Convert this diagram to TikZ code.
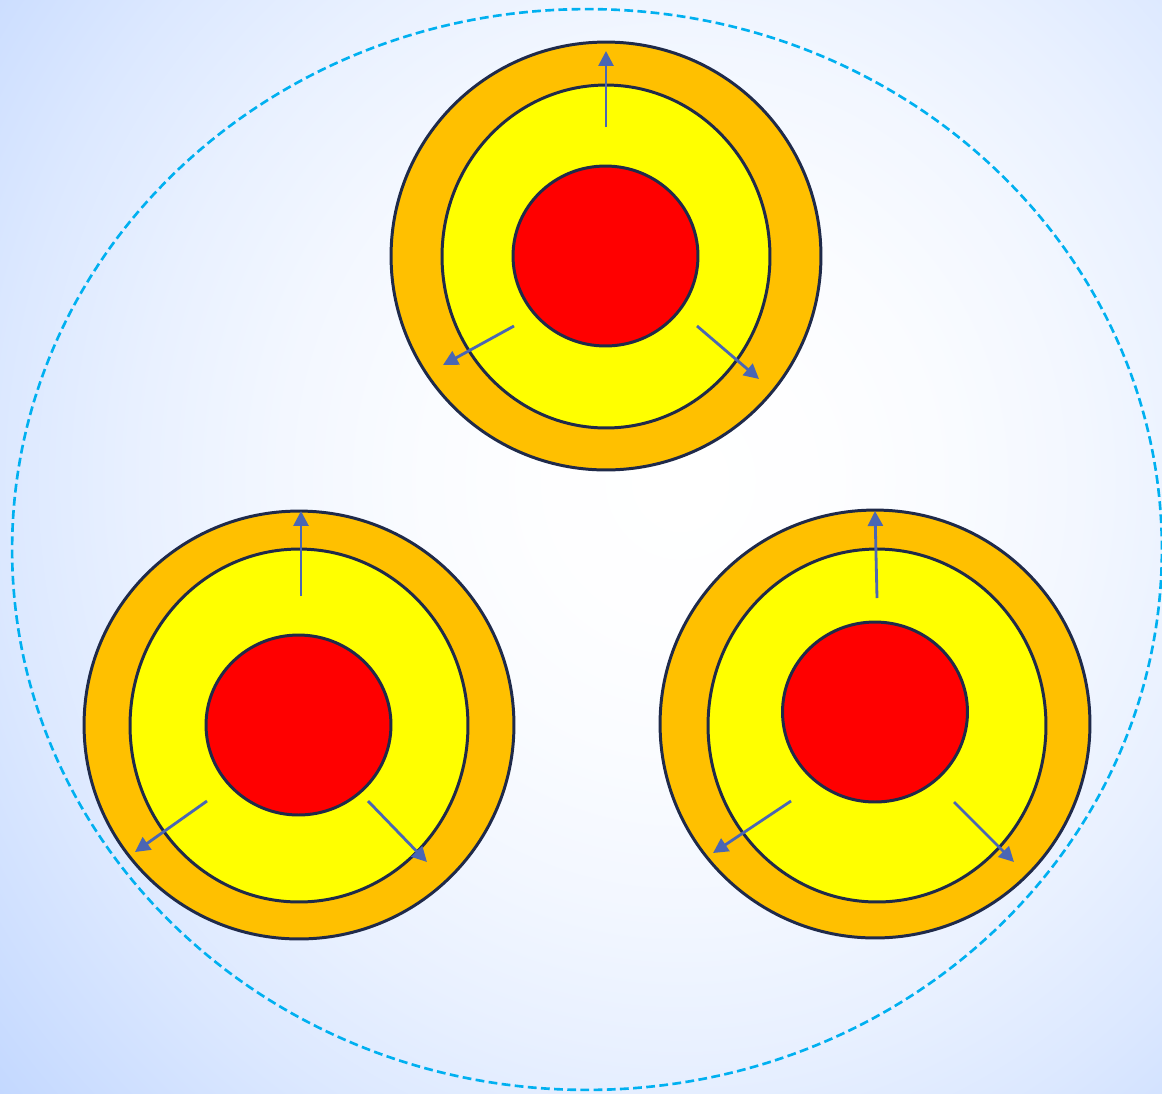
\documentclass[tikz,border=0pt]{standalone}
\usetikzlibrary{shapes.geometric,arrows.meta}
\definecolor{cornerblue}{HTML}{C0D6FF}
\definecolor{ringorange}{HTML}{FFC000}
\definecolor{coreyellow}{HTML}{FFFF00}
\definecolor{corered}{HTML}{FF0000}
\definecolor{edgenavy}{HTML}{1F2A4A}
\definecolor{arrowblue}{HTML}{4A66B4}
\definecolor{dashcyan}{HTML}{00B0F0}
\colorlet{bgA}{cornerblue!2.2!white}
\colorlet{bgB}{cornerblue!8.9!white}
\colorlet{bgC}{cornerblue!20!white}
\colorlet{bgD}{cornerblue!35.6!white}
\colorlet{bgE}{cornerblue!55.6!white}
\colorlet{bgF}{cornerblue!80!white}
\pgfdeclareradialshading{bgshade}{\pgfpoint{0bp}{0bp}}{color(0bp)=(white); color(5bp)=(bgA); color(10bp)=(bgB); color(15bp)=(bgC); color(20bp)=(bgD); color(25bp)=(bgE); color(30bp)=(bgF); color(34bp)=(cornerblue); color(50bp)=(cornerblue)}
\tikzset{
  ring/.style={ellipse, draw=edgenavy, line width=1.7pt, fill=ringorange, inner sep=0pt, minimum width=8.6cm, minimum height=8.56cm},
  yel/.style={ellipse, draw=edgenavy, line width=1.7pt, fill=coreyellow, inner sep=0pt},
  redcore/.style={ellipse, draw=edgenavy, line width=1.7pt, fill=corered, inner sep=0pt, minimum width=3.7cm, minimum height=3.6cm},
  flow/.style={draw=arrowblue, line width=1.6pt, -{Triangle[length=8.5pt,width=8.5pt]}},
  guide/.style={draw=dashcyan, line width=1.5pt, dash pattern=on 5pt off 2.5pt}
}
\begin{document}
\begin{tikzpicture}[x=0.02cm,y=-0.02cm]
\useasboundingbox (0,0) rectangle (1162,1093);
\begin{scope}
\clip (0,0) rectangle (1162,1093);
\shade[shading=bgshade] (0,-237) rectangle (1360,1197);
\end{scope}
\node[ellipse, guide, minimum width=23cm, minimum height=21.62cm, inner sep=0pt] (bound) at (587,549.5) {};
% top group
\node[ring] (tO) at (606,256) {};
\node[yel, minimum width=6.56cm, minimum height=6.86cm] (tY) at (606,256.5) {};
\node[redcore] (tR) at (605.5,256) {};
% bottom left group
\node[ring] (lO) at (299,725) {};
\node[yel, minimum width=6.76cm, minimum height=7.06cm] (lY) at (299,725.5) {};
\node[redcore] (lR) at (298.5,725) {};
% bottom right group
\node[ring] (rO) at (875,724) {};
\node[yel, minimum width=6.76cm, minimum height=7.06cm] (rY) at (877,725.5) {};
\node[redcore] (rR) at (875,712) {};
% arrow coordinates
\coordinate (t1s) at (606,127); \coordinate (t1e) at (606,51);
\coordinate (t2s) at (514,326); \coordinate (t2e) at (443,365);
\coordinate (t3s) at (697,326); \coordinate (t3e) at (759,379);
\coordinate (l1s) at (301,596); \coordinate (l1e) at (301,511);
\coordinate (l2s) at (207,801); \coordinate (l2e) at (135,852);
\coordinate (l3s) at (368,801); \coordinate (l3e) at (427,862);
\coordinate (r1s) at (877,598); \coordinate (r1e) at (875,511);
\coordinate (r2s) at (791,801); \coordinate (r2e) at (713,853);
\coordinate (r3s) at (954,802); \coordinate (r3e) at (1014,862);
\foreach \a in {t1,t2,t3,l1,l2,l3,r1,r2,r3}{
  \draw[flow] (\a s) -- (\a e);
}
\end{tikzpicture}
\end{document}
